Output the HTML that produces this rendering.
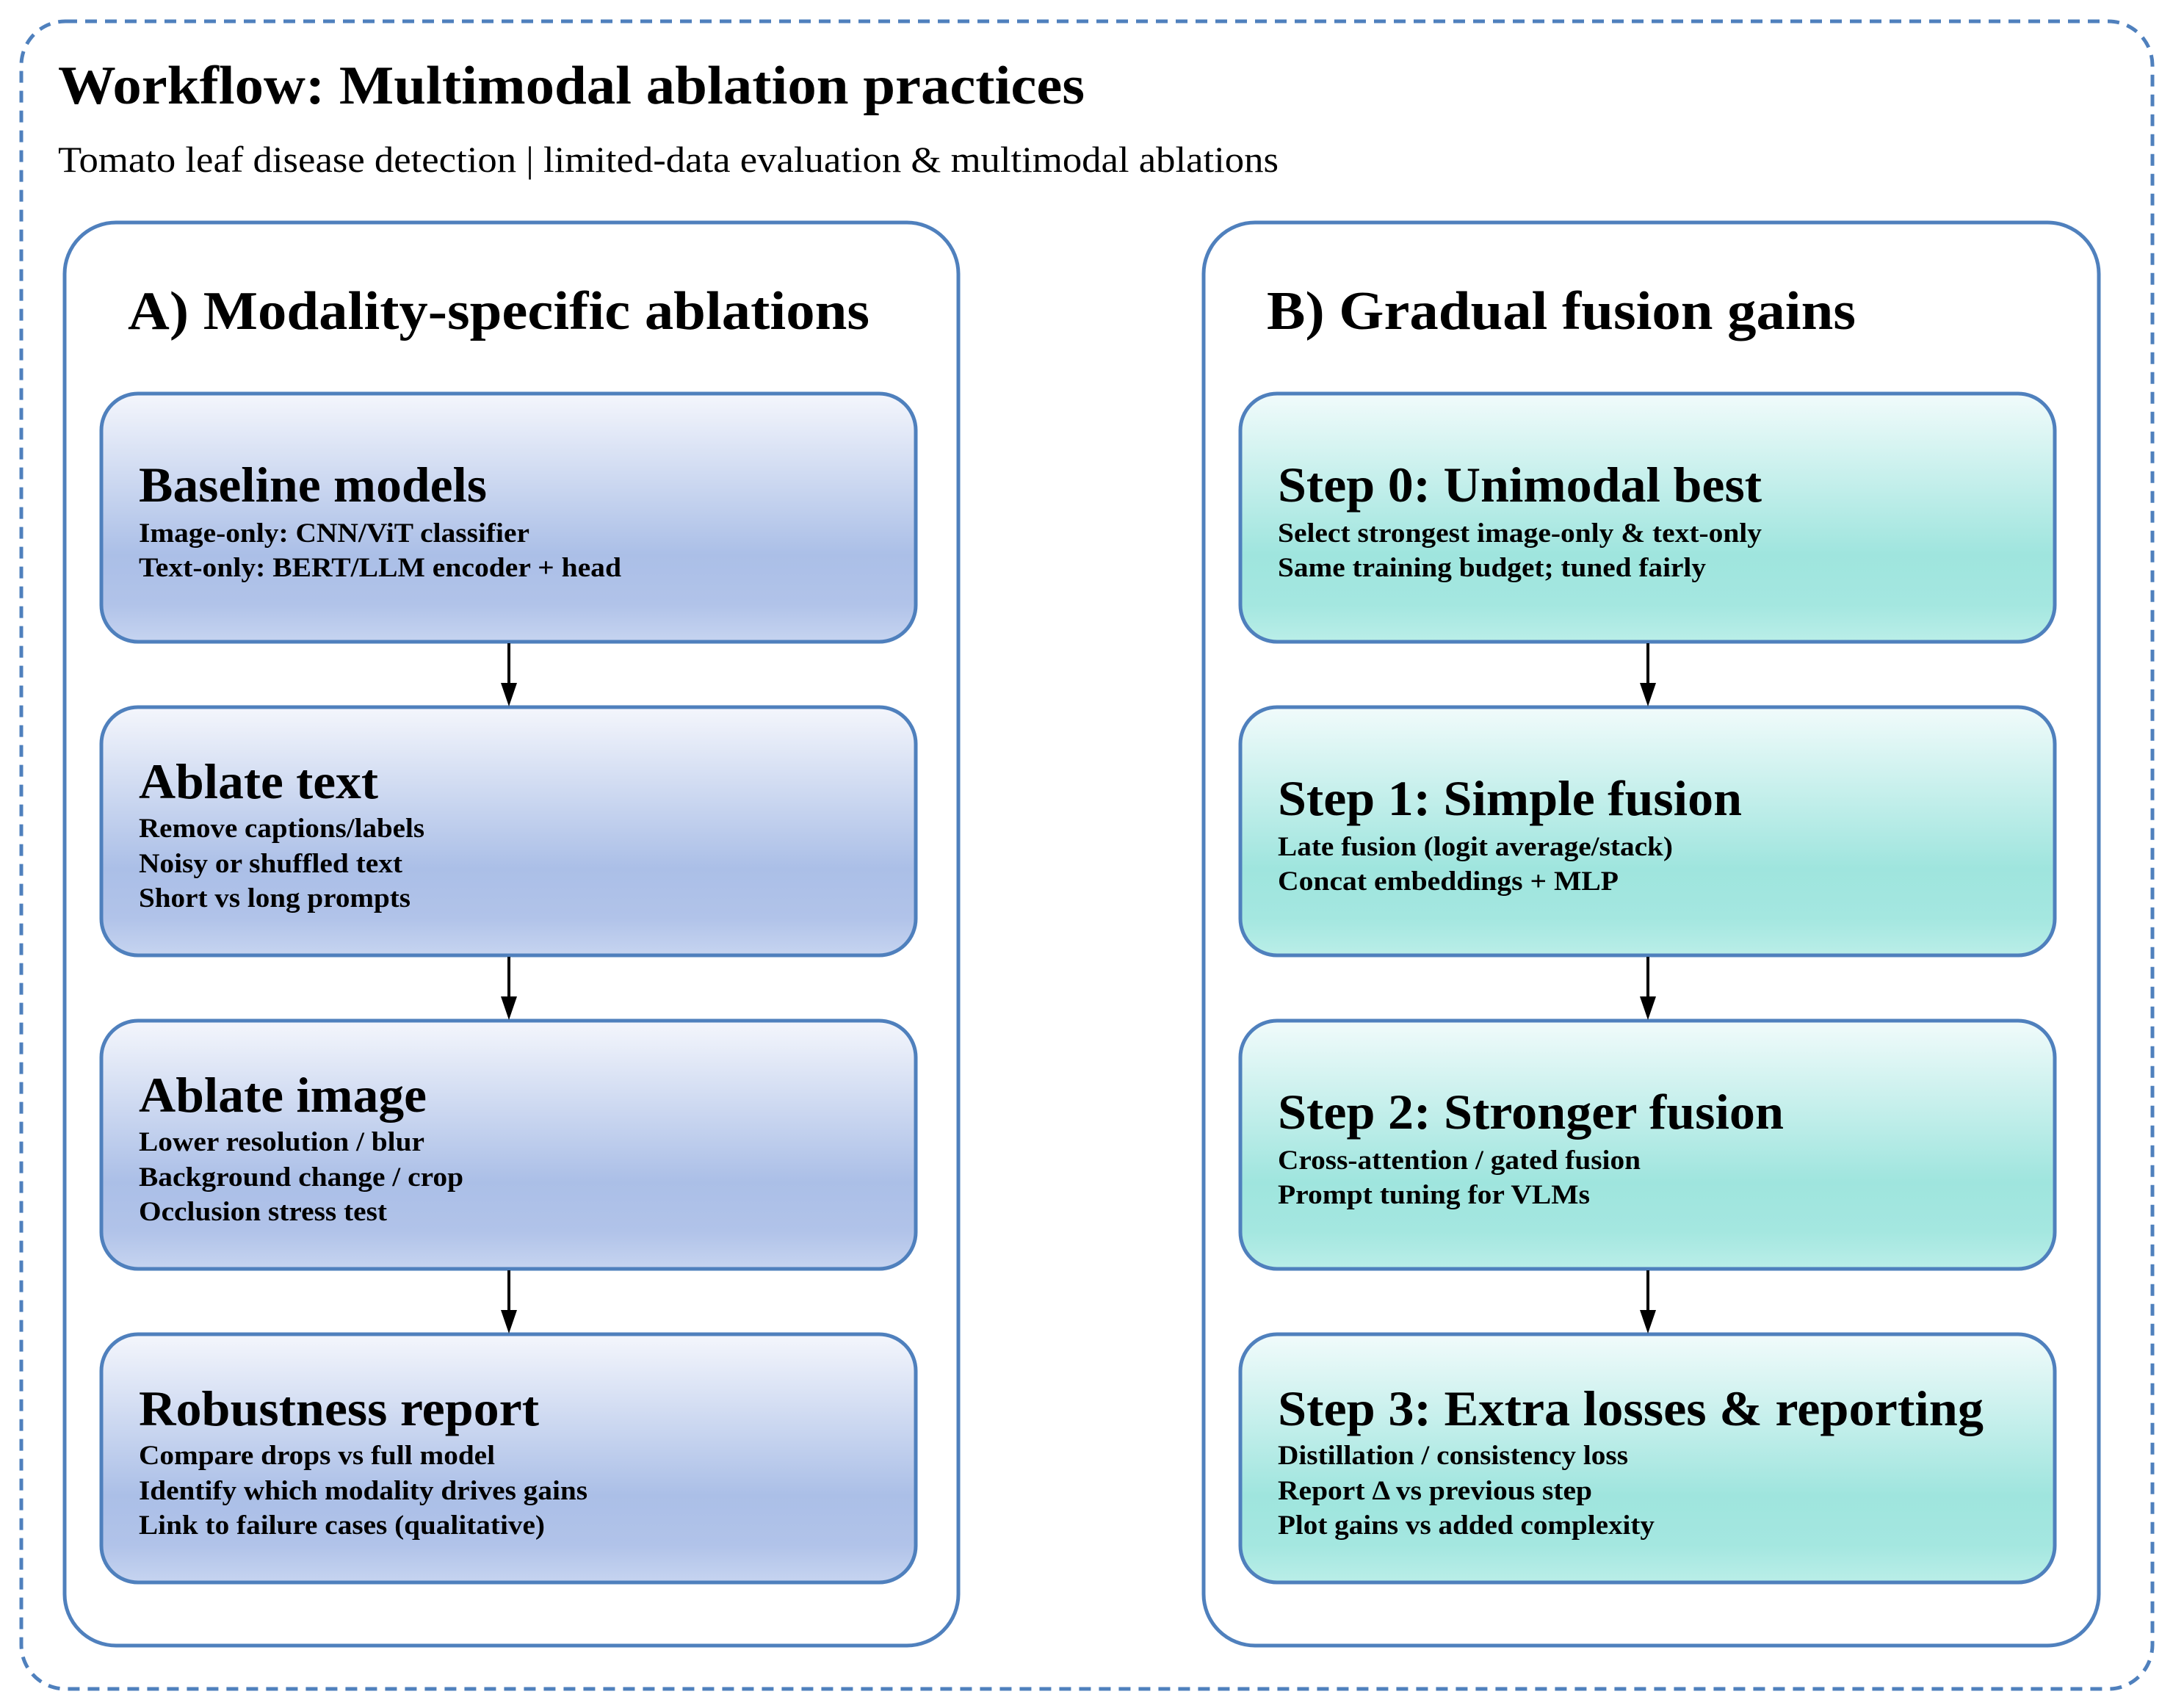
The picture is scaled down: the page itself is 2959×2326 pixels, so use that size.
<!DOCTYPE html>
<html><head><meta charset="utf-8"><style>
html,body{margin:0;padding:0;background:#fff;}
svg{display:block;}
text{font-family:"Liberation Serif","DejaVu Serif",serif;fill:#000;}
.t{font-weight:bold;font-size:68px;}
.l{font-weight:bold;font-size:37px;}
</style></head><body>
<svg width="2959" height="2326" viewBox="0 0 2959 2326" xmlns="http://www.w3.org/2000/svg">
<defs>
<linearGradient id="ga" x1="0" y1="0" x2="0" y2="1">
<stop offset="0" stop-color="#f4f6fc"/><stop offset="0.65" stop-color="#abbfe7"/><stop offset="0.85" stop-color="#b1c3e9"/><stop offset="1" stop-color="#c6d4f0"/>
</linearGradient>
<linearGradient id="gb" x1="0" y1="0" x2="0" y2="1">
<stop offset="0" stop-color="#f1fbfb"/><stop offset="0.65" stop-color="#9fe5de"/><stop offset="0.85" stop-color="#a4e7e0"/><stop offset="1" stop-color="#baeee8"/>
</linearGradient>
</defs>
<rect x="29" y="29" width="2902" height="2271" rx="60" fill="none" stroke="#4f80bd" stroke-width="5" stroke-dasharray="16 11"/>
<g lengthAdjust="spacingAndGlyphs">
<text x="79" y="141" font-size="74" font-weight="bold" textLength="1398" lengthAdjust="spacingAndGlyphs">Workflow: Multimodal ablation practices</text>
<text x="79" y="234" font-size="50" textLength="1662" lengthAdjust="spacingAndGlyphs">Tomato leaf disease detection | limited-data evaluation &amp; multimodal ablations</text>
</g>

<rect x="88" y="303" width="1217" height="1938" rx="70" fill="#fff" stroke="#4f80bd" stroke-width="5"/>
<rect x="1639" y="303" width="1219" height="1938" rx="70" fill="#fff" stroke="#4f80bd" stroke-width="5"/>
<text x="174" y="448" font-size="74" font-weight="bold" textLength="1010" lengthAdjust="spacingAndGlyphs">A) Modality-specific ablations</text>
<text x="1725" y="448" font-size="74" font-weight="bold" textLength="802" lengthAdjust="spacingAndGlyphs">B) Gradual fusion gains</text>

<g stroke="#4f80bd" stroke-width="5">
<rect x="138" y="536" width="1109" height="338" rx="50" fill="url(#ga)"/>
<rect x="138" y="963" width="1109" height="338" rx="50" fill="url(#ga)"/>
<rect x="138" y="1390" width="1109" height="338" rx="50" fill="url(#ga)"/>
<rect x="138" y="1817" width="1109" height="338" rx="50" fill="url(#ga)"/>
<rect x="1689" y="536" width="1109" height="338" rx="50" fill="url(#gb)"/>
<rect x="1689" y="963" width="1109" height="338" rx="50" fill="url(#gb)"/>
<rect x="1689" y="1390" width="1109" height="338" rx="50" fill="url(#gb)"/>
<rect x="1689" y="1817" width="1109" height="338" rx="50" fill="url(#gb)"/>
</g>

<g stroke="#000" stroke-width="4">
<line x1="693" y1="876" x2="693" y2="935"/><line x1="693" y1="1303" x2="693" y2="1362"/><line x1="693" y1="1730" x2="693" y2="1789"/>
<line x1="2244" y1="876" x2="2244" y2="935"/><line x1="2244" y1="1303" x2="2244" y2="1362"/><line x1="2244" y1="1730" x2="2244" y2="1789"/>
</g>
<g fill="#000">
<polygon points="682,930 704,930 693,962"/><polygon points="682,1357 704,1357 693,1389"/><polygon points="682,1784 704,1784 693,1816"/>
<polygon points="2233,930 2255,930 2244,962"/><polygon points="2233,1357 2255,1357 2244,1389"/><polygon points="2233,1784 2255,1784 2244,1816"/>
</g>

<text class="t" x="189" y="683" textLength="474" lengthAdjust="spacingAndGlyphs">Baseline models</text>
<text class="l" x="189" y="738" textLength="532" lengthAdjust="spacingAndGlyphs">Image-only: CNN/ViT classifier</text>
<text class="l" x="189" y="785" textLength="657" lengthAdjust="spacingAndGlyphs">Text-only: BERT/LLM encoder + head</text>

<text class="t" x="189" y="1087" textLength="326" lengthAdjust="spacingAndGlyphs">Ablate text</text>
<text class="l" x="189" y="1140" textLength="389" lengthAdjust="spacingAndGlyphs">Remove captions/labels</text>
<text class="l" x="189" y="1188" textLength="359" lengthAdjust="spacingAndGlyphs">Noisy or shuffled text</text>
<text class="l" x="189" y="1235" textLength="370" lengthAdjust="spacingAndGlyphs">Short vs long prompts</text>

<text class="t" x="189" y="1514" textLength="392" lengthAdjust="spacingAndGlyphs">Ablate image</text>
<text class="l" x="189" y="1567" textLength="389" lengthAdjust="spacingAndGlyphs">Lower resolution / blur</text>
<text class="l" x="189" y="1615" textLength="442" lengthAdjust="spacingAndGlyphs">Background change / crop</text>
<text class="l" x="189" y="1662" textLength="338" lengthAdjust="spacingAndGlyphs">Occlusion stress test</text>

<text class="t" x="189" y="1941" textLength="545" lengthAdjust="spacingAndGlyphs">Robustness report</text>
<text class="l" x="189" y="1994" textLength="485" lengthAdjust="spacingAndGlyphs">Compare drops vs full model</text>
<text class="l" x="189" y="2042" textLength="611" lengthAdjust="spacingAndGlyphs">Identify which modality drives gains</text>
<text class="l" x="189" y="2089" textLength="553" lengthAdjust="spacingAndGlyphs">Link to failure cases (qualitative)</text>

<text class="t" x="1740" y="683" textLength="659" lengthAdjust="spacingAndGlyphs">Step 0: Unimodal best</text>
<text class="l" x="1740" y="738" textLength="659" lengthAdjust="spacingAndGlyphs">Select strongest image-only &amp; text-only</text>
<text class="l" x="1740" y="785" textLength="583" lengthAdjust="spacingAndGlyphs">Same training budget; tuned fairly</text>

<text class="t" x="1740" y="1110" textLength="632" lengthAdjust="spacingAndGlyphs">Step 1: Simple fusion</text>
<text class="l" x="1740" y="1165" textLength="538" lengthAdjust="spacingAndGlyphs">Late fusion (logit average/stack)</text>
<text class="l" x="1740" y="1212" textLength="464" lengthAdjust="spacingAndGlyphs">Concat embeddings + MLP</text>

<text class="t" x="1740" y="1537" textLength="689" lengthAdjust="spacingAndGlyphs">Step 2: Stronger fusion</text>
<text class="l" x="1740" y="1592" textLength="494" lengthAdjust="spacingAndGlyphs">Cross-attention / gated fusion</text>
<text class="l" x="1740" y="1639" textLength="425" lengthAdjust="spacingAndGlyphs">Prompt tuning for VLMs</text>

<text class="t" x="1740" y="1941" textLength="961" lengthAdjust="spacingAndGlyphs">Step 3: Extra losses &amp; reporting</text>
<text class="l" x="1740" y="1994" textLength="477" lengthAdjust="spacingAndGlyphs">Distillation / consistency loss</text>
<text class="l" x="1740" y="2042" textLength="428" lengthAdjust="spacingAndGlyphs">Report Δ vs previous step</text>
<text class="l" x="1740" y="2089" textLength="513" lengthAdjust="spacingAndGlyphs">Plot gains vs added complexity</text>
</svg>
</body></html>
